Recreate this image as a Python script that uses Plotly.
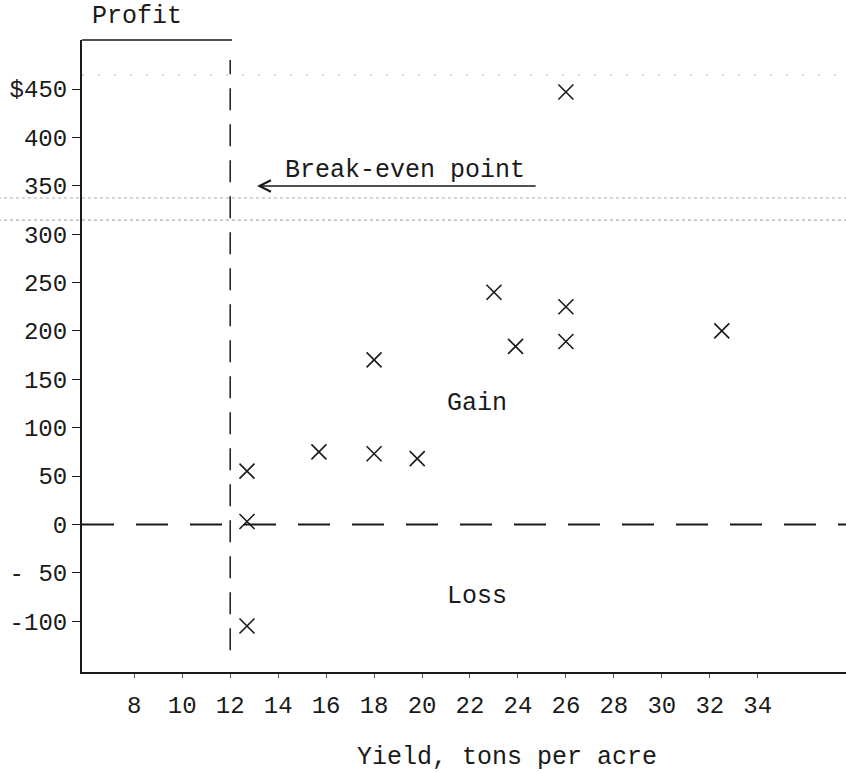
import plotly.graph_objects as go

# ---- data ----
yield_tons = [12.7, 12.7, 12.7, 15.7, 18.0, 18.0, 19.8, 23.0, 23.9, 26.0, 26.0, 26.0, 32.5]
profit = [55, 3, -105, 75, 73, 170, 68, 240, 184, 447, 225, 189, 200]

x_ticks = [8, 10, 12, 14, 16, 18, 20, 22, 24, 26, 28, 30, 32, 34]
x_tick_labels = [str(v) for v in x_ticks]
y_ticks = [450, 400, 350, 300, 250, 200, 150, 100, 50, 0, -50, -100]
y_tick_labels = ["$450", "400", "350", "300", "250", "200", "150", "100", "50", "0", "- 50", "-100"]

break_even_yield = 12
X_RANGE = [5.82, 37.68]
Y_RANGE = [-152.6, 500.7]

FONT = "Liberation Mono, Courier New, monospace"
INK = "#1a1a1a"

fig = go.Figure()
fig.add_trace(go.Scatter(
    x=yield_tons, y=profit, mode="markers",
    marker=dict(symbol="x-thin", size=15, color=INK,
                line=dict(width=1.6, color=INK)),
    showlegend=False, hoverinfo="x+y",
))

shapes = [
    # scan artefact lines
    dict(type="line", xref="paper", yref="y", x0=-0.11, x1=1, y0=337.4, y1=337.4,
         line=dict(color="#aaaaaa", width=1, dash="dot")),
    dict(type="line", xref="paper", yref="y", x0=-0.11, x1=1, y0=314.6, y1=314.6,
         line=dict(color="#aaaaaa", width=1.2, dash="dot")),
    dict(type="line", xref="paper", yref="y", x0=0, x1=1, y0=464.5, y1=464.5,
         line=dict(color="#bbbbbb", width=1, dash="2px,14px")),
    # zero line
    dict(type="line", xref="paper", yref="y", x0=0, x1=1, y0=0, y1=0,
         line=dict(color=INK, width=2, dash="32px,22px")),
    # break-even line
    dict(type="line", xref="x", yref="y", x0=break_even_yield, x1=break_even_yield,
         y0=-130, y1=480, line=dict(color=INK, width=1.5, dash="22px,14px")),
    # top line beside "Profit"
    dict(type="line", xref="paper", yref="paper", x0=0, x1=150/764, y0=1, y1=1,
         line=dict(color=INK, width=1.5)),
]

annotations = [
    dict(text="Profit", xref="paper", yref="paper", x=0.072, y=1.0364,
         xanchor="center", yanchor="middle", showarrow=False,
         font=dict(family=FONT, size=25, color=INK)),
    dict(text="Yield, tons per acre", xref="paper", yref="paper", x=0.556, y=-0.1345,
         xanchor="center", yanchor="middle", showarrow=False,
         font=dict(family=FONT, size=25, color=INK)),
    dict(text="Gain", xref="x", yref="y", x=22.3, y=125, showarrow=False,
         xanchor="center", yanchor="middle", font=dict(family=FONT, size=25, color=INK)),
    dict(text="Loss", xref="x", yref="y", x=22.3, y=-75, showarrow=False,
         xanchor="center", yanchor="middle", font=dict(family=FONT, size=25, color=INK)),
    dict(text="Break-even point", xref="x", yref="y", x=14.2, y=366, showarrow=False,
         xanchor="left", yanchor="middle", font=dict(family=FONT, size=25, color=INK)),
    dict(text="", xref="x", yref="y", x=13.12, y=349.8, axref="x", ayref="y",
         ax=24.8, ay=349.8, showarrow=True, arrowhead=5, arrowsize=1.6,
         arrowwidth=1.4, arrowcolor=INK),
]

fig.update_layout(
    width=846, height=772,
    margin=dict(l=82, r=0, t=40, b=100),
    paper_bgcolor="white", plot_bgcolor="white",
    shapes=shapes, annotations=annotations,
    xaxis=dict(range=X_RANGE, tickvals=x_ticks, ticktext=x_tick_labels,
               showgrid=False, zeroline=False, showline=True, linecolor=INK,
               linewidth=2, ticks="outside", ticklen=4, tickcolor="#555",
               ticklabelstandoff=6,
               tickfont=dict(family=FONT, size=24, color=INK)),
    yaxis=dict(range=Y_RANGE, tickvals=y_ticks, ticktext=y_tick_labels,
               showgrid=False, zeroline=False, showline=True, linecolor=INK,
               linewidth=2, ticks="outside", ticklen=8, tickcolor=INK,
               ticklabelstandoff=0,
               tickfont=dict(family=FONT, size=24, color=INK)),
)

fig.write_html(
    "out.html",
    config={"displayModeBar": False},
    post_script="document.body.style.margin='0';document.body.style.overflow='hidden';",
)
